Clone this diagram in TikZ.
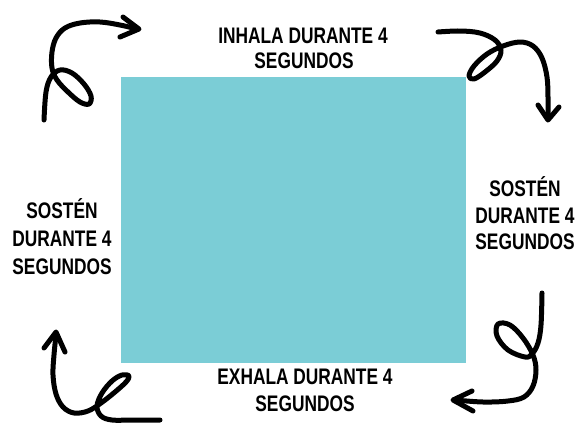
\documentclass[tikz,border=0pt]{standalone}
\usepackage{fontspec}
\newfontfamily\lbl{Liberation Sans}[FakeStretch=0.77]
\definecolor{boxteal}{HTML}{7BCDD6}
\tikzset{
  curl/.style={line width=5pt, line cap=round, line join=round, black},
  lab/.style={font=\lbl\bfseries\fontsize{22.5}{27}\selectfont, anchor=base, inner sep=0pt, text=black}
}
\begin{document}
\begin{tikzpicture}[x=1pt,y=-1pt]
\useasboundingbox (0,0) rectangle (579,424);
\fill[white] (0,0) rectangle (579,424);
\fill[boxteal] (121,77) rectangle (466,363);

% labels
\node[lab] (t1) at (303,43) {INHALA DURANTE 4};
\node[lab] (t2) at (304,68) {SEGUNDOS};
\node[lab] (r1) at (525,196) {SOSTÉN};
\node[lab] (r2) at (525,223) {DURANTE 4};
\node[lab] (r3) at (525,249) {SEGUNDOS};
\node[lab] (l1) at (62,218) {SOSTÉN};
\node[lab] (l2) at (62,246) {DURANTE 4};
\node[lab] (l3) at (62,274) {SEGUNDOS};
\node[lab] (b1) at (305,384) {EXHALA DURANTE 4};
\node[lab] (b2) at (305,411) {SEGUNDOS};

% top-left curl
\draw[curl] plot[smooth, tension=0.6] coordinates {(44,120) (46,92) (51,77) (60,70) (72,73) (84,84) (91,96) (89,104) (80,102) (68,92) (57,80) (52,68) (52,52) (56,38) (65,28) (80,23) (100,22) (120,25) (137,29)};
\draw[curl] (123,17) -- (139,29) -- (120,37);

% top-right curl
\draw[curl] plot[smooth, tension=0.6] coordinates {(438,32) (460,31) (480,33) (495,40) (501,50) (497,61) (485,72) (474,79) (469,76) (474,66) (487,54) (503,46) (520,42) (533,46) (542,58) (547,77) (548,97) (548,118)};
\draw[curl] (538,105) -- (548,120) -- (559,107);

% bottom-right curl
\draw[curl] plot[smooth, tension=0.6] coordinates {(542,293) (541,325) (538,343) (532,354) (525,357) (508,350) (497,336) (498,324) (510,325) (523,338) (533,355) (536,370) (533,386) (524,397) (508,401) (483,402) (455,400)};
\draw[curl] (472,391) -- (453,400) -- (473,411);

% bottom-left curl
\draw[curl] plot[smooth, tension=0.6] coordinates {(56,335) (54,355) (53,375) (56,394) (63,407) (74,413) (88,411) (101,403) (115,392) (126,382) (129,376) (122,375) (112,381) (102,393) (97,406) (101,416) (112,420) (132,420) (160,420)};
\draw[curl] (44,348) -- (56,332) -- (65,352);
\end{tikzpicture}
\end{document}
